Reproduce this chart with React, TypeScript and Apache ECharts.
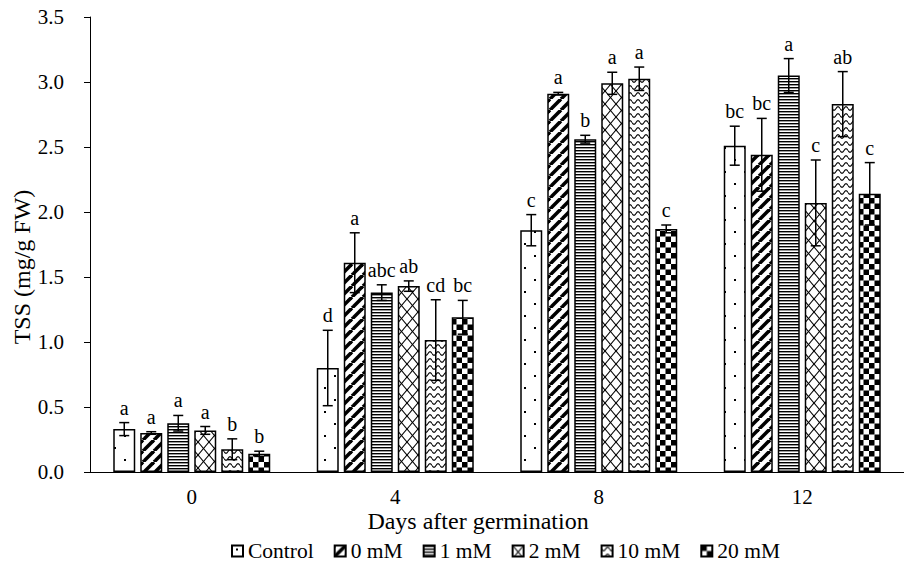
import React, { useEffect, useRef } from "react";
import * as echarts from "echarts";

const categories = ["0", "4", "8", "12"];
const seriesNames = ["Control", "0 mM", "1 mM", "2 mM", "10 mM", "20 mM"];
const patternKinds = ["dots", "diag", "hlines", "cross", "wave", "checker"];

const controlMean = [0.33, 0.8, 1.86, 2.51];
const mM0Mean = [0.3, 1.61, 2.91, 2.44];
const mM1Mean = [0.375, 1.38, 2.56, 3.05];
const mM2Mean = [0.32, 1.43, 2.99, 2.07];
const mM10Mean = [0.175, 1.015, 3.025, 2.83];
const mM20Mean = [0.14, 1.19, 1.87, 2.14];

const controlSD = [0.05, 0.29, 0.12, 0.15];
const mM0SD = [0.01, 0.23, 0.01, 0.28];
const mM1SD = [0.06, 0.06, 0.03, 0.13];
const mM2SD = [0.03, 0.04, 0.085, 0.33];
const mM10SD = [0.08, 0.31, 0.09, 0.25];
const mM20SD = [0.02, 0.13, 0.03, 0.24];

const controlLetters = ["a", "d", "c", "bc"];
const mM0Letters = ["a", "a", "a", "bc"];
const mM1Letters = ["a", "abc", "b", "a"];
const mM2Letters = ["a", "ab", "a", "c"];
const mM10Letters = ["b", "cd", "a", "ab"];
const mM20Letters = ["b", "bc", "c", "c"];

const yMin = 0;
const yMax = 3.5;
const yInterval = 0.5;

const xTitle = "Days after germination";
const yTitle = "TSS (mg/g FW)";

const means = [controlMean, mM0Mean, mM1Mean, mM2Mean, mM10Mean, mM20Mean];
const sds = [controlSD, mM0SD, mM1SD, mM2SD, mM10SD, mM20SD];
const letters = [controlLetters, mM0Letters, mM1Letters, mM2Letters, mM10Letters, mM20Letters];

const FONT = '"Liberation Serif", "Times New Roman", serif';
const BAR_W = 22;
const BAR_GAP = 5;

function makePattern(kind: string) {
  const c = document.createElement("canvas");
  let w = 10;
  let h = 10;
  if (kind === "dots") { w = 20; h = 24; }
  else if (kind === "diag") { w = 11; h = 11; }
  else if (kind === "hlines") { w = 4; h = 3; }
  else if (kind === "cross") { w = 11; h = 13; }
  else if (kind === "wave") { w = 8; h = 7; }
  else if (kind === "checker") { w = 11; h = 11; }
  c.width = w;
  c.height = h;
  const ctx = c.getContext("2d")!;
  ctx.fillStyle = "#fff";
  ctx.fillRect(0, 0, w, h);
  ctx.fillStyle = "#000";
  ctx.strokeStyle = "#000";
  if (kind === "dots") {
    ctx.fillRect(4, 3, 2, 2);
    ctx.fillRect(14, 15, 2, 2);
  } else if (kind === "diag") {
    ctx.lineWidth = 3.6;
    for (let k = -1; k <= 1; k++) {
      ctx.beginPath();
      ctx.moveTo(k * w, h);
      ctx.lineTo(k * w + w, 0);
      ctx.stroke();
    }
  } else if (kind === "hlines") {
    ctx.fillRect(0, 0, w, 1.4);
  } else if (kind === "cross") {
    ctx.lineWidth = 1.1;
    for (let k = -1; k <= 1; k++) {
      ctx.beginPath();
      ctx.moveTo(k * w, 0);
      ctx.lineTo(k * w + w, h);
      ctx.stroke();
      ctx.beginPath();
      ctx.moveTo(k * w + w, 0);
      ctx.lineTo(k * w, h);
      ctx.stroke();
    }
  } else if (kind === "wave") {
    ctx.lineWidth = 1.1;
    for (let k = -1; k <= 1; k++) {
      ctx.beginPath();
      for (let x = 0; x <= w; x += 0.5) {
        const y = k * h + 3.5 + 1.8 * Math.sin((2 * Math.PI * x) / w);
        if (x === 0) ctx.moveTo(x, y);
        else ctx.lineTo(x, y);
      }
      ctx.stroke();
    }
  } else if (kind === "checker") {
    ctx.fillRect(0, 0, 5.5, 5.5);
    ctx.fillRect(5.5, 5.5, 5.5, 5.5);
  }
  return { image: c.toDataURL(), repeat: "repeat", imageWidth: w, imageHeight: h };
}

export default function App() {
  const ref = useRef<HTMLDivElement>(null);
  useEffect(() => {
    if (!ref.current) return;
    const chart = echarts.init(ref.current, undefined, { renderer: "svg" });
    const patterns = patternKinds.map(makePattern);
    const step = BAR_W + BAR_GAP;

    const barSeries = seriesNames.map((name, i) => ({
      name,
      type: "bar",
      barWidth: BAR_W,
      barGap: `${(BAR_GAP / BAR_W) * 100}%`,
      data: means[i],
      itemStyle: { color: patterns[i], borderColor: "#000", borderWidth: 1.5 },
      emphasis: { disabled: true },
    }));

    const errData: number[][] = [];
    seriesNames.forEach((_, i) => {
      categories.forEach((__, j) => {
        errData.push([j, means[i][j], sds[i][j], i]);
      });
    });

    const errSeries = {
      name: "errors",
      type: "custom",
      z: 5,
      data: errData,
      renderItem: (params: any, api: any) => {
        const cat = api.value(0);
        const m = api.value(1);
        const sd = api.value(2);
        const si = api.value(3);
        const off = (si - 2.5) * step;
        const top = api.coord([cat, m + sd]);
        const bot = api.coord([cat, Math.max(0, m - sd)]);
        const x = top[0] + off;
        const cap = 5;
        const ls = { stroke: "#000", lineWidth: 1.5 };
        return {
          type: "group",
          children: [
            { type: "line", shape: { x1: x, y1: top[1], x2: x, y2: bot[1] }, style: ls },
            { type: "line", shape: { x1: x - cap, y1: top[1], x2: x + cap, y2: top[1] }, style: ls },
            { type: "line", shape: { x1: x - cap, y1: bot[1], x2: x + cap, y2: bot[1] }, style: ls },
            {
              type: "text",
              style: {
                text: letters[si][cat],
                x: x,
                y: top[1] - 5,
                textAlign: "center",
                textVerticalAlign: "bottom",
                font: `20px ${FONT}`,
                fill: "#000",
              },
            },
          ],
        };
      },
    };

    chart.setOption({
      animation: false,
      grid: { left: 90, top: 17, width: 817, height: 455, containLabel: false },
      xAxis: {
        type: "category",
        data: categories,
        axisLine: { lineStyle: { color: "#000", width: 1 } },
        axisTick: { inside: true, length: 5, lineStyle: { color: "#000" } },
        axisLabel: { color: "#000", fontFamily: FONT, fontSize: 21, margin: 14 },
      },
      yAxis: {
        type: "value",
        min: yMin,
        max: yMax,
        interval: yInterval,
        axisLine: { show: true, lineStyle: { color: "#000", width: 1 } },
        axisTick: { show: true, length: 6, lineStyle: { color: "#000" } },
        splitLine: { show: false },
        axisLabel: {
          color: "#000",
          fontFamily: FONT,
          fontSize: 21,
          margin: 26,
          formatter: (v: number) => v.toFixed(1),
        },
      },
      legend: {
        data: seriesNames,
        left: 231,
        top: 540,
        padding: 0,
        itemWidth: 11,
        itemHeight: 11,
        itemGap: 20,
        icon: "rect",
        textStyle: { color: "#000", fontFamily: FONT, fontSize: 21.5 },
        selectedMode: false,
      },
      graphic: [
        {
          type: "text",
          x: 478,
          y: 521,
          style: {
            text: xTitle,
            font: `24px ${FONT}`,
            fill: "#000",
            textAlign: "center",
            textVerticalAlign: "middle",
          },
        },
        {
          type: "text",
          x: 22,
          y: 267,
          rotation: Math.PI / 2,
          style: {
            text: yTitle,
            font: `24px ${FONT}`,
            fill: "#000",
            textAlign: "center",
            textVerticalAlign: "middle",
          },
        },
      ],
      series: [...barSeries, errSeries],
    });
    return () => chart.dispose();
  }, []);
  return (
    <div
      ref={ref}
      style={{ position: "fixed", left: 0, top: 0, width: 904, height: 566, background: "#fff" }}
    />
  );
}
